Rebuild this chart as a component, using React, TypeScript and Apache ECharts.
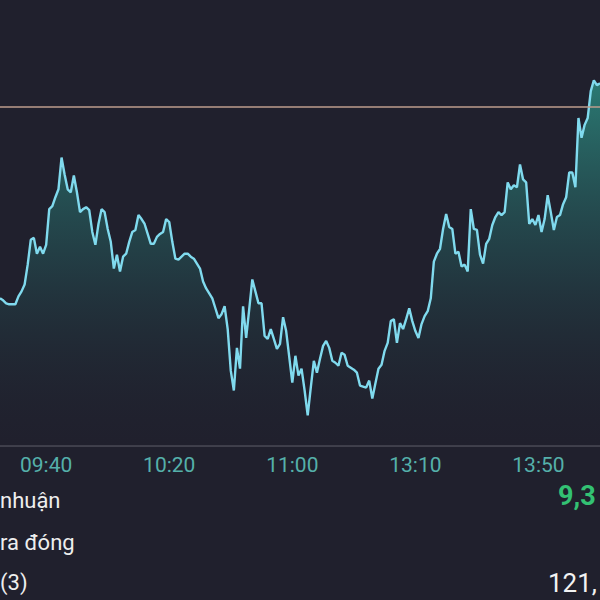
import React, { useEffect, useRef } from "react";
import * as echarts from "echarts";

// Trading sessions shown on the category axis (minute by minute)
const MORNING_SESSION: [string, string] = ["09:25", "11:30"];
const AFTERNOON_SESSION: [string, string] = ["13:01", "14:10"];

// Tick labels visible on the time axis
const TICK_LABELS = ["09:40", "10:20", "11:00", "13:10", "13:50"];

// Reference (previous close) price
const REFERENCE_PRICE = 1254.2;

// Price per minute, morning session
const PRICE_MORNING = [
  1234.9, 1234.7, 1234.4, 1234.3, 1234.3, 1234.3, 1235.1, 1235.6, 1236.3, 1238.3,
  1240.8, 1241.0, 1239.4, 1240.1, 1239.4, 1240.3, 1243.9, 1244.2, 1245.1, 1245.9,
  1249.1, 1247.4, 1245.9, 1245.6, 1247.3, 1245.6, 1243.6, 1243.9, 1244.1, 1243.8,
  1241.6, 1240.3, 1242.4, 1243.9, 1243.6, 1241.9, 1240.6, 1237.9, 1239.3, 1237.6,
  1239.1, 1239.4, 1240.6, 1241.6, 1241.8, 1243.3, 1242.9, 1242.4, 1241.4, 1240.4,
  1240.4, 1241.1, 1241.4, 1241.6, 1242.9, 1242.6, 1240.6, 1238.9, 1238.8, 1239.1,
  1239.4, 1239.4, 1239.1, 1238.9, 1238.4, 1237.9, 1236.6, 1235.9, 1235.4, 1234.9,
  1233.9, 1232.9, 1233.3, 1234.1, 1231.8, 1227.6, 1225.6, 1229.9, 1227.8, 1234.1,
  1230.9, 1233.8, 1236.8, 1235.6, 1234.4, 1234.4, 1231.1, 1230.8, 1231.8, 1230.8,
  1229.8, 1230.3, 1233.0, 1231.6, 1229.0, 1226.4, 1229.1, 1227.1, 1227.8, 1225.6,
  1223.1, 1225.9, 1228.6, 1227.4, 1228.8, 1230.1, 1230.6, 1229.9, 1228.6, 1228.4,
  1228.1, 1229.4, 1229.2, 1228.1, 1227.9, 1227.7, 1227.4, 1226.1, 1226.0, 1225.9,
  1226.6, 1224.8, 1226.3, 1227.8, 1228.2, 1229.6,
];

// Price per minute, afternoon session
const PRICE_AFTERNOON = [
  1230.4, 1232.6, 1232.8, 1230.4, 1232.4, 1231.8, 1232.8, 1233.9, 1232.6, 1231.6,
  1230.9, 1232.3, 1233.1, 1233.6, 1234.9, 1238.6, 1239.4, 1239.9, 1241.9, 1243.4,
  1242.1, 1241.9, 1239.4, 1239.6, 1238.1, 1238.3, 1237.6, 1243.9, 1241.9, 1241.8,
  1239.3, 1238.4, 1240.4, 1240.9, 1242.3, 1243.1, 1243.6, 1243.3, 1243.6, 1246.6,
  1245.9, 1246.3, 1246.1, 1248.4, 1246.9, 1246.6, 1242.4, 1242.9, 1242.3, 1243.3,
  1241.6, 1242.9, 1245.3, 1243.6, 1241.8, 1243.1, 1243.3, 1244.4, 1245.1, 1247.6,
  1247.6, 1246.1, 1253.1, 1251.1, 1252.4, 1253.1, 1255.8, 1256.9, 1256.4, 1256.6,
];

// Texts of the info rows below the chart (cropped in the screenshot)
const INFO_LEFT = ["nhuận", "ra đóng", "(3)"];
const INFO_PROFIT = "9,3";
const INFO_VALUE = "121,";

function minutesBetween(range: [string, string]): string[] {
  const toMin = (s: string) => {
    const [h, m] = s.split(":").map(Number);
    return h * 60 + m;
  };
  const out: string[] = [];
  for (let t = toMin(range[0]); t <= toMin(range[1]); t++) {
    const h = Math.floor(t / 60);
    const m = t % 60;
    out.push(`${String(h).padStart(2, "0")}:${String(m).padStart(2, "0")}`);
  }
  return out;
}

const BG = "#20202d";
const FONT = "Roboto, 'Noto Sans', sans-serif";

export default function App() {
  const ref = useRef<HTMLDivElement>(null);

  useEffect(() => {
    if (!ref.current) return;
    const chart = echarts.init(ref.current, undefined, { renderer: "svg" });
    const times = [...minutesBetween(MORNING_SESSION), ...minutesBetween(AFTERNOON_SESSION)];
    const prices = [...PRICE_MORNING, ...PRICE_AFTERNOON];

    chart.setOption({
      animation: false,
      backgroundColor: BG,
      grid: { left: -1.5, right: -3, top: -4, bottom: 154, containLabel: false },
      xAxis: {
        type: "category",
        data: times,
        boundaryGap: false,
        axisLine: { show: true, lineStyle: { color: "#4b4b57", width: 1.5 } },
        axisTick: { show: false },
        splitLine: { show: false },
        axisLabel: {
          interval: (_i: number, v: string) => TICK_LABELS.includes(v),
          color: "#55b0aa",
          fontSize: 21,
          fontFamily: FONT,
          margin: 8,
        },
      },
      yAxis: {
        type: "value",
        min: 1220,
        max: 1265,
        show: false,
        splitLine: { show: false },
      },
      series: [
        {
          type: "line",
          data: prices,
          symbol: "none",
          smooth: false,
          lineStyle: { color: "#80daee", width: 2.4 },
          areaStyle: {
            origin: "start",
            color: new echarts.graphic.LinearGradient(0, 0, 0, 1, [
              { offset: 0, color: "rgba(48,172,154,0.92)" },
              { offset: 0.5, color: "rgba(38,98,98,0.6)" },
              { offset: 1, color: "rgba(32,32,45,0.1)" },
            ]),
          },
          markLine: {
            silent: true,
            symbol: ["none", "none"],
            label: { show: false },
            lineStyle: { color: "#bd9c8c", width: 1.5, type: "solid" },
            data: [{ yAxis: REFERENCE_PRICE }],
          },
        },
      ],
      graphic: [
        { type: "text", left: 0, top: 489, style: { text: INFO_LEFT[0], fill: "#eeeeee", font: `22px ${FONT}` } },
        { type: "text", left: 0, top: 531, style: { text: INFO_LEFT[1], fill: "#eeeeee", font: `22px ${FONT}` } },
        { type: "text", left: 0, top: 571, style: { text: INFO_LEFT[2], fill: "#eeeeee", font: `22px ${FONT}` } },
        { type: "text", left: 558, top: 482, style: { text: INFO_PROFIT, fill: "#33c173", font: `bold 27px ${FONT}` } },
        { type: "text", left: 548, top: 570, style: { text: INFO_VALUE, fill: "#f2f2f2", font: `26px ${FONT}` } },
      ],
    });
    return () => chart.dispose();
  }, []);

  return (
    <div
      ref={ref}
      style={{ position: "fixed", left: 0, top: 0, width: 600, height: 600, background: BG }}
    />
  );
}
